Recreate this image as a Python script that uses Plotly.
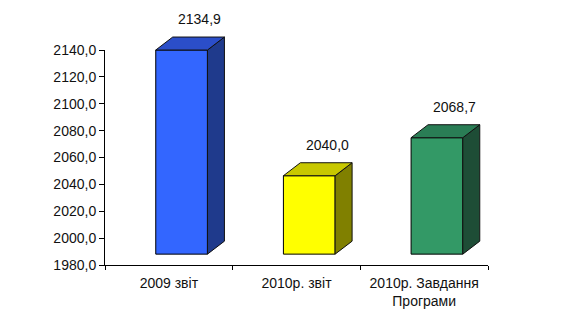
import plotly.graph_objects as go

categories = ["2009 звіт", "2010р. звіт", "2010р. Завдання<br>Програми"]
values = [2134.9, 2040.0, 2068.7]
labels = ["2134,9", "2040,0", "2068,7"]
front_colors = ["#3366FF", "#FFFF00", "#339966"]
top_colors = ["#2B4EC9", "#C8C800", "#2A7D55"]
side_colors = ["#1F3A8C", "#808000", "#1E4D36"]
y_ticks = [1980, 2000, 2020, 2040, 2060, 2080, 2100, 2120, 2140]

# 3D styling parameters (pixel geometry converted to data units)
BASE = 1980.8          # front-face floor on the bar axis
Y2_MIN = 1972.6
PX_PER_UNIT2 = 1.3246
X_SHIFT = 0.1          # front face shift inside category
BAR_W = 0.405
DX = 0.133             # depth offset in x units
DY = 9.8               # depth offset in y2 units

W, H = 580, 333
M_L, M_R, M_T, M_B = 105, 92, 10, 68
plot_h = H - M_T - M_B
axis_h = 215
dom_top = axis_h / plot_h
y2_max = Y2_MIN + plot_h / PX_PER_UNIT2

fig = go.Figure()

# dummy trace to build the category axis
fig.add_trace(go.Scatter(x=categories, y=[None] * 3, xaxis="x", yaxis="y",
                         showlegend=False, hoverinfo="skip", mode="markers"))

n = len(values)
xc = [i + X_SHIFT for i in range(n)]

# side and top faces
for i in range(n):
    xl = xc[i] - BAR_W / 2
    xr = xc[i] + BAR_W / 2
    v = values[i]
    fig.add_trace(go.Scatter(
        x=[xr, xr + DX, xr + DX, xr, xr],
        y=[BASE, BASE + DY, v + DY, v, BASE],
        xaxis="x2", yaxis="y2", fill="toself", fillcolor=side_colors[i],
        mode="lines", line=dict(color="#111111", width=1),
        showlegend=False, hoverinfo="skip"))
    fig.add_trace(go.Scatter(
        x=[xl, xr, xr + DX, xl + DX, xl],
        y=[v, v, v + DY, v + DY, v],
        xaxis="x2", yaxis="y2", fill="toself", fillcolor=top_colors[i],
        mode="lines", line=dict(color="#111111", width=1),
        showlegend=False, hoverinfo="skip"))

# front faces
fig.add_trace(go.Bar(
    x=xc, y=[v - BASE for v in values], base=[BASE] * n, width=[BAR_W] * n,
    xaxis="x2", yaxis="y2",
    marker=dict(color=front_colors, line=dict(color="#000000", width=1)),
    showlegend=False, hoverinfo="skip"))

for i in range(n):
    fig.add_annotation(x=xc[i] + 0.14, y=values[i], xref="x2", yref="y2",
                       text=labels[i], showarrow=False, yshift=31,
                       font=dict(size=14, color="#111111"))

font_family = "Arial, Liberation Sans, sans-serif"
fig.update_layout(
    width=W, height=H,
    margin=dict(l=M_L, r=M_R, t=M_T, b=M_B, autoexpand=False),
    paper_bgcolor="white", plot_bgcolor="rgba(0,0,0,0)",
    separators=", ",
    font=dict(family=font_family, size=14, color="#111111"),
    xaxis=dict(type="category", categoryorder="array", categoryarray=categories,
               range=[-0.5, 2.5], tickson="boundaries", ticks="outside",
               ticklen=4, tickcolor="#000", showline=True, linecolor="#000",
               linewidth=1, showgrid=False, zeroline=False, automargin=False,
               ticklabelstandoff=5, tickfont=dict(size=14), anchor="y"),
    yaxis=dict(domain=[0, dom_top], range=[1980, 2140], tickvals=y_ticks,
               tickformat=".1f", ticks="outside", ticklen=5, tickcolor="#000",
               showline=True, linecolor="#000", linewidth=1, showgrid=False,
               zeroline=False, automargin=False, tickfont=dict(size=14),
               anchor="x"),
    xaxis2=dict(range=[-0.5, 2.5], visible=False, anchor="y2",
                automargin=False),
    yaxis2=dict(domain=[0, 1], range=[Y2_MIN, y2_max], visible=False,
                anchor="x2", automargin=False),
)

fig.write_html("out.html")
